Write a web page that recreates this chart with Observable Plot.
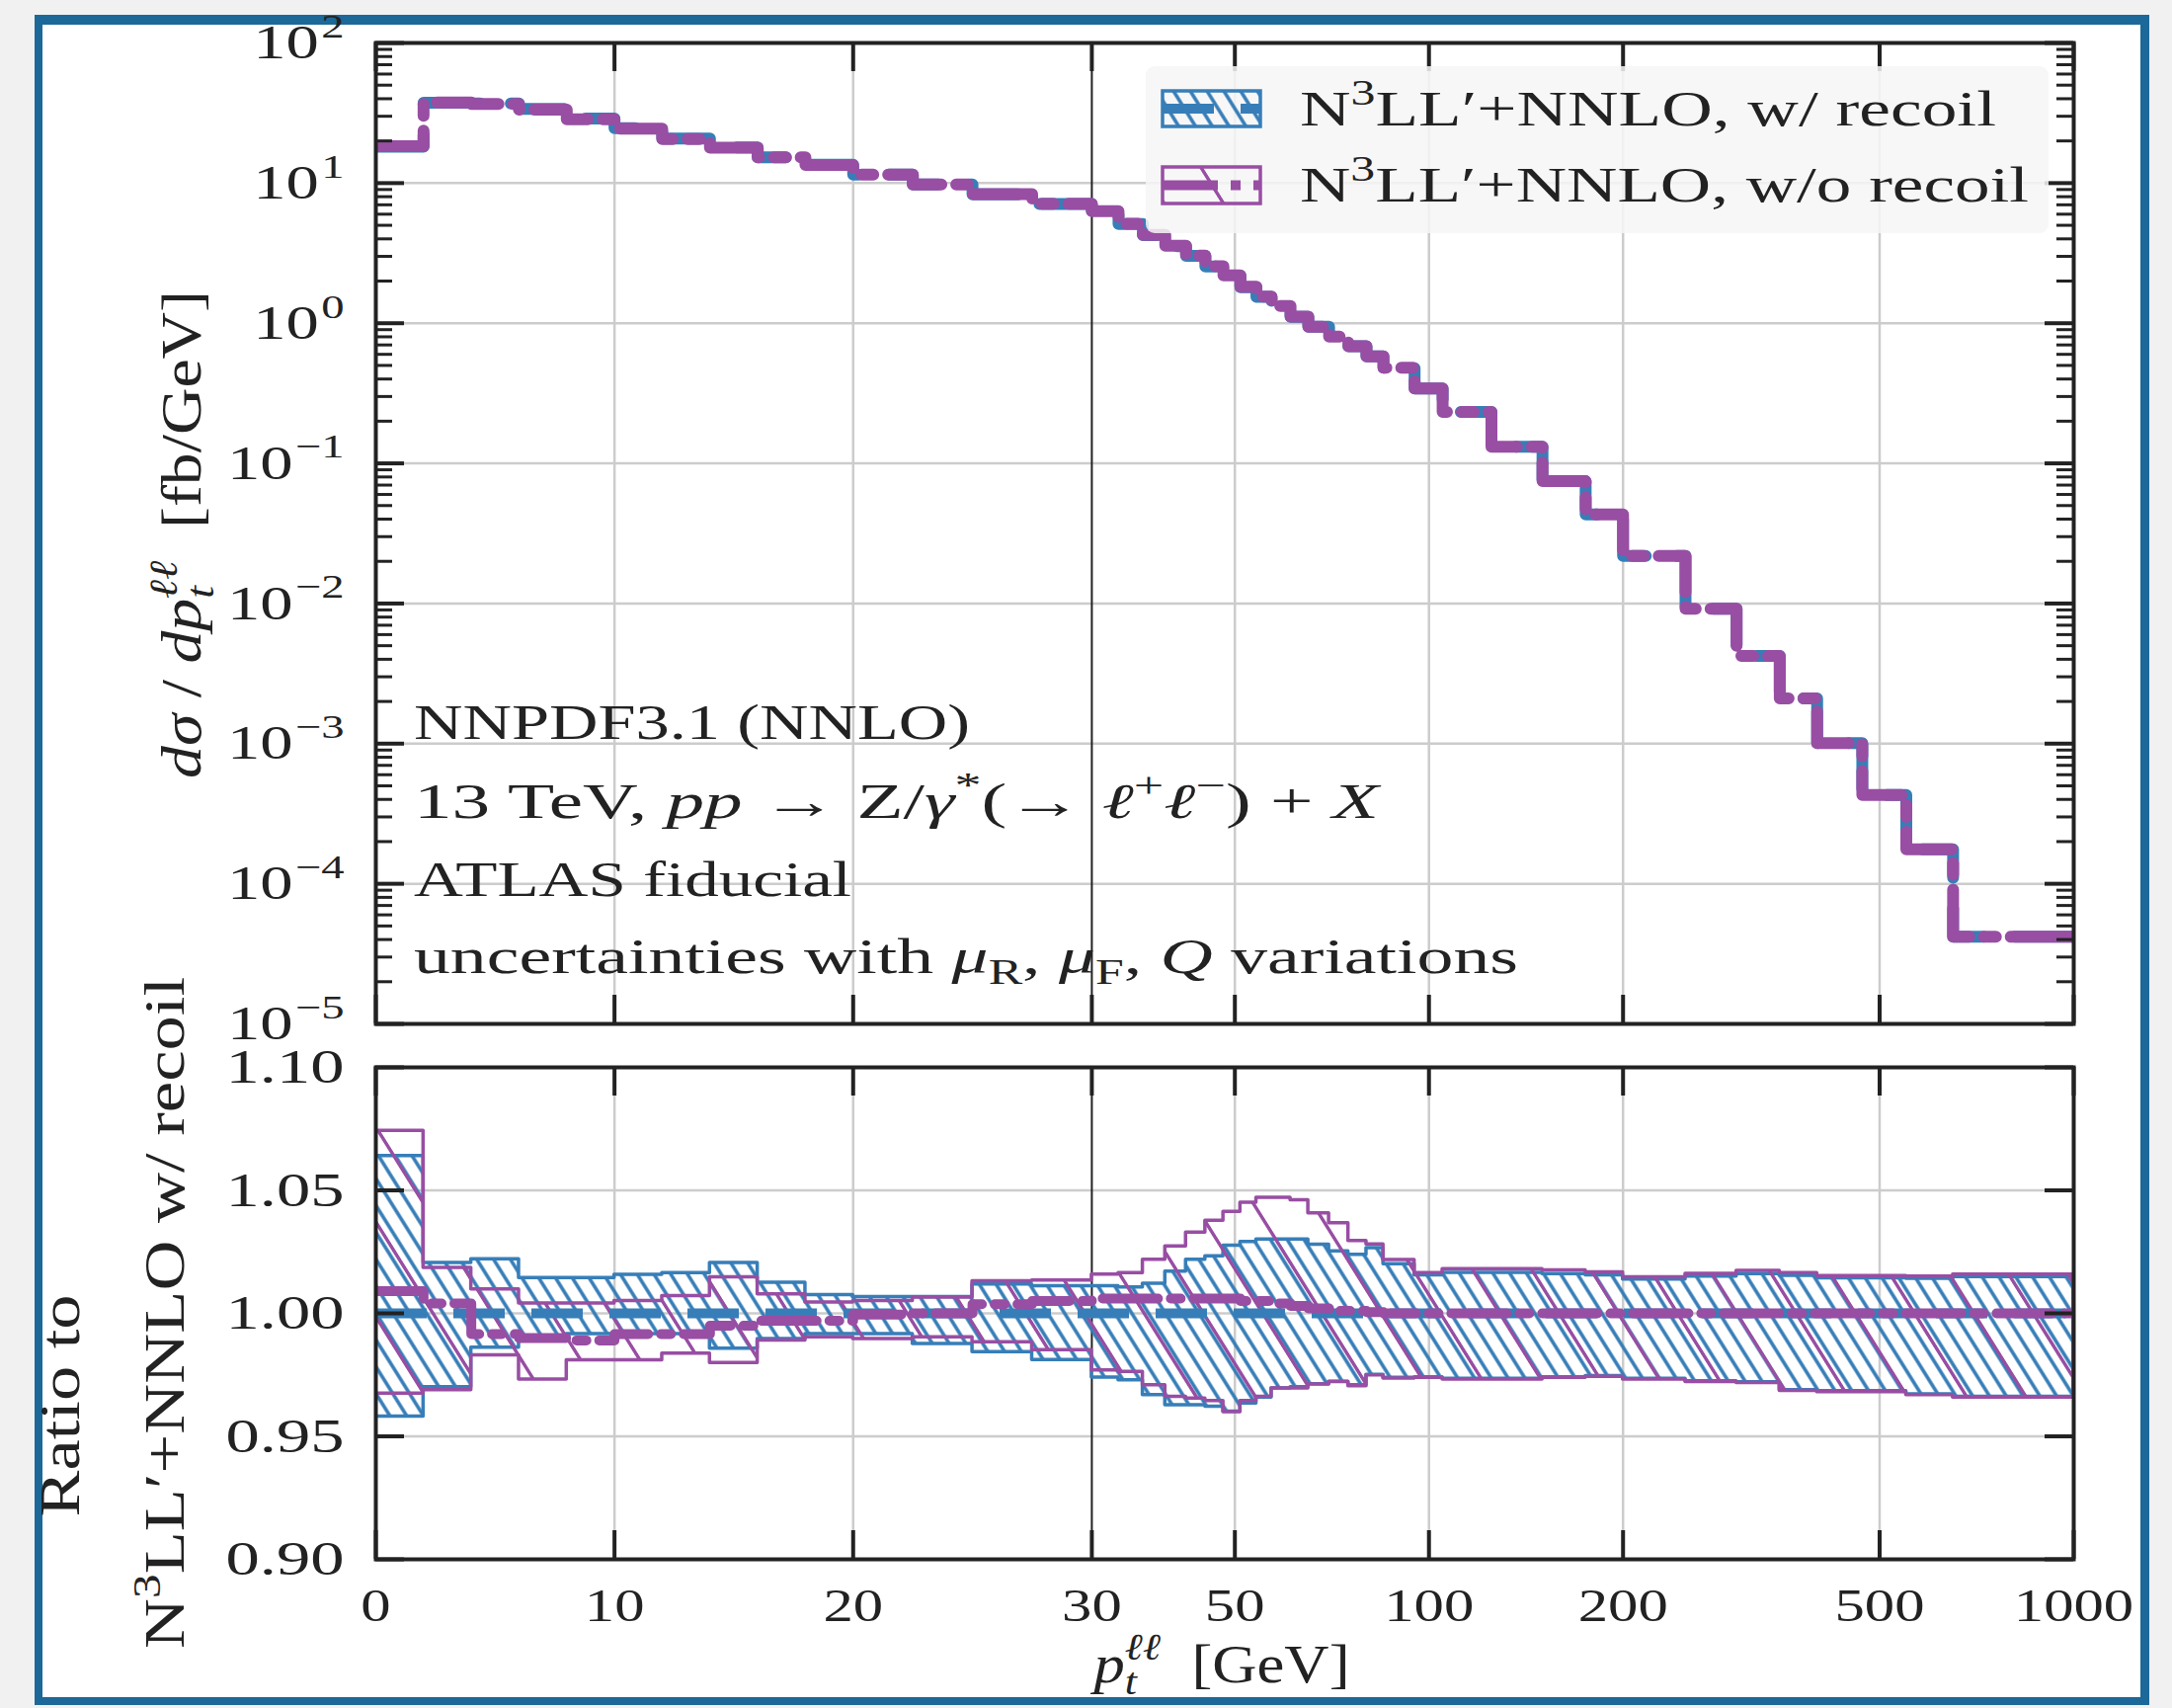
<!DOCTYPE html>
<html>
<head>
<meta charset="utf-8">
<script src="https://cdn.jsdelivr.net/npm/d3@7"></script>
<script src="https://cdn.jsdelivr.net/npm/@observablehq/plot@0.6"></script>
<style>
  html, body { margin: 0; padding: 0; background: #f1f1f1; }
  #page { position: relative; width: 2199px; height: 1729px; overflow: hidden; background: #f1f1f1; }
  #card { position: absolute; left: 35px; top: 15px; width: 2124px; height: 1693px;
          border-style: solid; border-color: #1c6898; border-width: 10px 9px 8px 8px; background: #ffffff; }
  .layer { position: absolute; left: 0; }
  #overlay { position: absolute; left: 0; top: 0; }
</style>
</head>
<body>
<div id="page">
  <div id="card"></div>
  <svg id="defs" width="0" height="0" style="position:absolute;left:0;top:0">
    <defs>
      <pattern id="hatchBlue" patternUnits="userSpaceOnUse" width="17" height="60" patternTransform="skewX(32)">
        <line x1="8.5" y1="-2" x2="8.5" y2="62" stroke="#377eb8" stroke-width="4.2"/>
      </pattern>
      <pattern id="hatchPurple" patternUnits="userSpaceOnUse" width="60" height="60" patternTransform="skewX(32)">
        <line x1="30" y1="-2" x2="30" y2="62" stroke="#984ea3" stroke-width="4"/>
      </pattern>
    </defs>
  </svg>
  <div id="top" class="layer" style="top:0px"></div>
  <div id="bottom" class="layer" style="top:1060px"></div>
  <svg id="overlay" width="2199" height="1729"></svg>
</div>
<script>
// ---------------- data ----------------
const edges = [0,2,4,6,8,10,12,14,16,18,20,22.5,25,27.5,30,33,36,39,42,45,48,51,54,57,61,65,70,75,80,85,95,105,125,150,175,200,250,300,350,400,470,550,650,1000];

// d sigma / d pt (fb/GeV), N3LL'+NNLO with recoil
const xsecRecoil = [18.2,37.5,37.0,33.8,28.9,24.7,20.8,18.0,15.3,13.5,11.5,9.76,8.30,7.09,
  6.27,5.10,4.25,3.55,3.02,2.54,2.18,1.81,1.54,1.32,1.11,0.944,0.803,0.684,0.581,
  0.481,0.342,0.233,0.1315,0.0746,0.0433,0.0219,0.00919,0.00423,0.00210,0.00101,0.000430,0.000176,0.0000419];

// ratio of "w/o recoil" central value to "w/ recoil"
const ratioNoRecoil = [1.009,1.004,0.9916,0.990,0.989,0.9916,0.9916,0.995,0.997,0.997,0.9995,1.000,1.0037,1.005,
  1.006,1.006,1.006,1.006,1.006,1.006,1.006,1.005,1.005,1.004,1.003,1.002,1.001,1.001,1.0005,
  1.000,1.000,1.000,1.000,1.000,1.000,1.000,1.000,1.000,1.000,1.000,1.000,1.000,1.000];

// uncertainty bands (ratio to w/ recoil)
const bandRecoilLo = [0.958,0.970,0.986,0.990,0.9916,0.9916,0.9916,0.9856,0.9896,0.9916,0.9916,0.9876,0.9842,0.981,
  0.9739,0.9728,0.9668,0.9627,0.9627,0.962,0.960,0.9634,0.9658,0.9695,0.9700,0.9712,0.9722,0.9708,0.9750,
  0.9738,0.9740,0.9734,0.9734,0.974,0.9745,0.9734,0.9724,0.972,0.9688,0.9684,0.9684,0.9671,0.9661];
const bandRecoilHi = [1.064,1.0205,1.022,1.0144,1.0144,1.0157,1.0164,1.0205,1.0124,1.0074,1.0066,1.0066,1.0117,1.011,
  1.011,1.0105,1.012,1.017,1.0218,1.0232,1.0275,1.029,1.030,1.030,1.030,1.0279,1.0252,1.0238,1.0265,
  1.020,1.0155,1.0165,1.0165,1.016,1.0155,1.0138,1.015,1.016,1.0153,1.0143,1.0143,1.0141,1.0148];
const bandNoRecoilLo = [0.9674,0.9688,0.9829,0.9731,0.9809,0.9809,0.9836,0.9798,0.989,0.9903,0.9896,0.9903,0.9883,0.985,
  0.9768,0.9762,0.9708,0.9661,0.9654,0.9644,0.9598,0.9644,0.9661,0.9695,0.9695,0.9711,0.9721,0.9704,0.9748,
  0.9735,0.9738,0.9731,0.9731,0.9738,0.9742,0.9731,0.9721,0.9717,0.9685,0.968,0.968,0.9668,0.9658];
const bandNoRecoilHi = [1.0742,1.0185,1.0097,1.004,1.004,1.005,1.007,1.0147,1.0077,1.0044,1.005,1.0064,1.0131,1.0134,
  1.0158,1.0164,1.0218,1.0272,1.0328,1.0377,1.0413,1.045,1.047,1.047,1.046,1.0407,1.0366,1.0294,1.028,
  1.0217,1.0164,1.018,1.018,1.0175,1.0167,1.0147,1.0161,1.0173,1.0164,1.0152,1.0152,1.015,1.0158];

const xTicks = [0,10,20,30,50,100,200,500,1000];
const xGrid = [10,20,50,100,200,500];
const xBreak = 30, xMax = 1000;
const yTicksTop = [1e-5,1e-4,1e-3,1e-2,1e-1,1e0,1e1,1e2];
const yTicksRatio = [0.90,0.95,1.00,1.05,1.10];
const yGridRatio = [0.95,1.00,1.05];

// ---------------- styling ----------------
const BLUE = "#377eb8", PURPLE = "#984ea3", INK = "#222222", GRID = "#cccccc";
const FONT = "'Liberation Serif', 'DejaVu Serif', serif";
const NS = "http://www.w3.org/2000/svg";

// piecewise x scale: linear up to 30 GeV, logarithmic above
const LIN = 0.4217;
const U = x => x <= xBreak ? LIN * x / xBreak
  : LIN + (1 - LIN) * Math.log10(x / xBreak) / Math.log10(xMax / xBreak);

const nb = edges.length - 1;
const rows = edges.map((e, i) => {
  const j = Math.min(i, nb - 1);
  return {
    pt: e,
    recoil: xsecRecoil[j],
    noRecoil: xsecRecoil[j] * ratioNoRecoil[j],
    mid: ratioNoRecoil[j],
    bLo: bandRecoilLo[j], bHi: bandRecoilHi[j],
    pLo: bandNoRecoilLo[j], pHi: bandNoRecoilHi[j]
  };
});

const W = 2199, ML = 380, MR = 100, PW = W - ML - MR;
const TMAJ = 29, TMIN = 17;
const DASH = "52,27", DASHDOT = "56,13,10,13";

// ---------------- top panel ----------------
const topH = 1060, topMT = 43, topMB = 24, topPH = topH - topMT - topMB;
const minors = yTicksTop.slice(0, -1).flatMap(d => [2,3,4,5,6,7,8,9].map(k => k * d));
const xs = d => U(d.pt);

const topPlot = Plot.plot({
  width: W, height: topH, marginLeft: ML, marginRight: MR, marginTop: topMT, marginBottom: topMB,
  style: {background: "transparent", fontFamily: FONT, overflow: "visible"},
  x: {type: "linear", domain: [0, 1], axis: null},
  y: {type: "log", domain: [1e-5, 1e2], axis: null},
  marks: [
    Plot.ruleY(yTicksTop.slice(1, -1), {stroke: GRID, strokeWidth: 2.5}),
    Plot.ruleX(xGrid, {x: U, stroke: GRID, strokeWidth: 2.5}),
    Plot.ruleX([xBreak], {x: U, stroke: INK, strokeWidth: 2}),
    Plot.line(rows, {x: xs, y: "recoil", curve: "step-after", stroke: BLUE, strokeWidth: 12,
      strokeDasharray: "60,31", strokeLinejoin: "round", clip: true}),
    Plot.line(rows, {x: xs, y: "noRecoil", curve: "step-after", stroke: PURPLE, strokeWidth: 12,
      strokeDasharray: "64,15,12,15", strokeLinejoin: "round", clip: true}),
    Plot.ruleY(yTicksTop, {insetRight: PW - TMAJ, stroke: INK, strokeWidth: 4}),
    Plot.ruleY(yTicksTop, {insetLeft: PW - TMAJ, stroke: INK, strokeWidth: 4}),
    Plot.ruleY(minors, {insetRight: PW - TMIN, stroke: INK, strokeWidth: 3}),
    Plot.ruleY(minors, {insetLeft: PW - TMIN, stroke: INK, strokeWidth: 3}),
    Plot.ruleX(xTicks, {x: U, insetTop: topPH - TMAJ, stroke: INK, strokeWidth: 4}),
    Plot.ruleX(xTicks, {x: U, insetBottom: topPH - TMAJ, stroke: INK, strokeWidth: 4}),
    Plot.frame({stroke: INK, strokeWidth: 4}),
    Plot.text(yTicksTop, {y: d => d, text: d => String(Math.round(Math.log10(d))),
      frameAnchor: "left", textAnchor: "end", dx: -32, fontSize: 49, fontFamily: FONT, fill: INK})
  ]
});
document.getElementById("top").appendChild(topPlot);

// ---------------- ratio panel ----------------
const botH = 669, botMT = 20, botMB = 151, botPH = botH - botMT - botMB;
const botPlot = Plot.plot({
  width: W, height: botH, marginLeft: ML, marginRight: MR, marginTop: botMT, marginBottom: botMB,
  style: {background: "transparent", fontFamily: FONT, overflow: "visible"},
  x: {type: "linear", domain: [0, 1], axis: null},
  y: {type: "linear", domain: [0.90, 1.10], axis: null},
  marks: [
    Plot.ruleY(yGridRatio, {stroke: GRID, strokeWidth: 2.5}),
    Plot.ruleX(xGrid, {x: U, stroke: GRID, strokeWidth: 2.5}),
    Plot.ruleX([xBreak], {x: U, stroke: INK, strokeWidth: 2}),
    Plot.areaY(rows, {x: xs, y1: "bLo", y2: "bHi", curve: "step-after",
      fill: "url(#hatchBlue)", stroke: BLUE, strokeWidth: 3.5, clip: true}),
    Plot.areaY(rows, {x: xs, y1: "pLo", y2: "pHi", curve: "step-after",
      fill: "url(#hatchPurple)", stroke: PURPLE, strokeWidth: 3.5, clip: true}),
    Plot.ruleY([1], {stroke: BLUE, strokeWidth: 10, strokeDasharray: DASH}),
    Plot.line(rows, {x: xs, y: "mid", curve: "step-after", stroke: PURPLE, strokeWidth: 10,
      strokeDasharray: DASHDOT, clip: true}),
    Plot.ruleY(yTicksRatio, {insetRight: PW - TMAJ, stroke: INK, strokeWidth: 4}),
    Plot.ruleY(yTicksRatio, {insetLeft: PW - TMAJ, stroke: INK, strokeWidth: 4}),
    Plot.ruleX(xTicks, {x: U, insetTop: botPH - TMAJ, stroke: INK, strokeWidth: 4}),
    Plot.ruleX(xTicks, {x: U, insetBottom: botPH - TMAJ, stroke: INK, strokeWidth: 4}),
    Plot.frame({stroke: INK, strokeWidth: 4}),
    Plot.text(yTicksRatio, {y: d => d, text: d => d.toFixed(2), frameAnchor: "left", textAnchor: "end",
      dx: -32, fontSize: 49, fontFamily: FONT, fill: INK}),
    Plot.text(xTicks, {x: U, text: d => String(d), frameAnchor: "bottom", lineAnchor: "top",
      dy: 30, fontSize: 46, fontFamily: FONT, fill: INK})
  ]
});
document.getElementById("bottom").appendChild(botPlot);

// ---------------- post-processing of tick labels ----------------
function textGroups(svg) { return svg.querySelectorAll('g[aria-label="text"]'); }
function stretch(group, sx) {
  if (!group) return;
  group.querySelectorAll("text").forEach(t => {
    const tr = t.getAttribute("transform");
    if (tr) t.setAttribute("transform", tr + ` scale(${sx},1)`);
    else {
      const x = +(t.getAttribute("x") || 0);
      t.removeAttribute("x");
      t.setAttribute("transform", `translate(${x},0) scale(${sx},1)`);
    }
  });
}
const topTickGroup = textGroups(topPlot)[0];
const [ratioTickGroup, xTickGroup] = textGroups(botPlot);
if (topTickGroup) topTickGroup.querySelectorAll("text").forEach(t => {
  const e = t.textContent.replace("-", "−");
  while (t.firstChild) t.removeChild(t.firstChild);
  const a = document.createElementNS(NS, "tspan"); a.textContent = "10";
  const b = document.createElementNS(NS, "tspan"); b.textContent = e;
  b.setAttribute("font-size", "70%"); b.setAttribute("dy", "-0.62em"); b.setAttribute("dx", "0.05em");
  t.appendChild(a); t.appendChild(b);
});
stretch(topTickGroup, 1.36);
stretch(ratioTickGroup, 1.4);
stretch(xTickGroup, 1.32);

// ---------------- overlay: legend, annotations, axis titles ----------------
const ov = document.getElementById("overlay");
function el(tag, attrs, parent = ov) {
  const e = document.createElementNS(NS, tag);
  for (const k in attrs) e.setAttribute(k, attrs[k]);
  parent.appendChild(e);
  return e;
}
const SUP = {s: 0.7, sh: -0.42}, SUB = {s: 0.7, sh: 0.22};
function rich({x, y, size, anchor = "start", rotate = 0, length = null}, parts) {
  const t = el("text", {
    transform: `translate(${x},${y})` + (rotate ? ` rotate(${rotate})` : ""),
    "font-size": size, "text-anchor": anchor, "font-family": FONT, fill: INK,
    style: "white-space:pre"
  });
  if (length) { t.setAttribute("textLength", length); t.setAttribute("lengthAdjust", "spacingAndGlyphs"); }
  let cur = 0;
  for (const p of parts) {
    const [str, o = {}] = Array.isArray(p) ? p : [p];
    const ts = document.createElementNS(NS, "tspan");
    const shift = (o.sh || 0) * size;
    ts.setAttribute("dy", shift - cur); cur = shift;
    if (o.dx) ts.setAttribute("dx", o.dx * size);
    ts.setAttribute("font-size", (o.s || 1) * size);
    if (o.i) ts.setAttribute("font-style", "italic");
    ts.textContent = str;
    t.appendChild(ts);
  }
  return t;
}
const I = {i: 1};
const ISUB = {i: 1, s: 0.7, sh: 0.22};
const ISUP = {i: 1, s: 0.7, sh: -0.42, dx: -0.2};

// legend
el("rect", {x: 1160, y: 67, width: 914, height: 169, rx: 9, fill: "#f6f6f6", "fill-opacity": 0.85});
el("rect", {x: 1177, y: 92, width: 99, height: 36, fill: "url(#hatchBlue)", stroke: BLUE, "stroke-width": 3.5});
el("line", {x1: 1177, y1: 110, x2: 1276, y2: 110, stroke: BLUE, "stroke-width": 10, "stroke-dasharray": DASH});
el("rect", {x: 1177, y: 169, width: 99, height: 37, fill: "url(#hatchPurple)", stroke: PURPLE, "stroke-width": 3.5});
el("line", {x1: 1177, y1: 187.5, x2: 1276, y2: 187.5, stroke: PURPLE, "stroke-width": 10, "stroke-dasharray": DASHDOT});
rich({x: 1316, y: 127, size: 50, length: 705}, ["N", ["3", SUP], ["LL′+NNLO, w/ recoil"]]);
rich({x: 1316, y: 204, size: 50, length: 738}, ["N", ["3", SUP], ["LL′+NNLO, w/o recoil"]]);

// annotations
rich({x: 419, y: 748, size: 50, length: 563}, ["NNPDF3.1 (NNLO)"]);
rich({x: 419, y: 828, size: 50, length: 977},
  ["13 TeV, ", ["pp", I], " → Z/", ["γ", I], ["*", SUP], "(→ ", ["ℓ", I], ["+", SUP], ["ℓ", I], ["−", SUP], ") + ", ["X", I]]);
rich({x: 419, y: 907, size: 50, length: 443}, ["ATLAS fiducial"]);
rich({x: 419, y: 985, size: 50, length: 1118},
  ["uncertainties with ", ["μ", I], ["R", SUB], ", ", ["μ", I], ["F", SUB], ", ", ["Q", I], " variations"]);

// axis titles
rich({x: 203, y: 541, size: 57, anchor: "middle", rotate: -90, length: 494},
  [["d", I], ["σ", I], " / ", ["d", I], ["p", I], ["t", ISUB], ["ℓℓ", ISUP], "  [fb/GeV]"]);
rich({x: 80, y: 1423, size: 57, anchor: "middle", rotate: -90, length: 225}, ["Ratio to"]);
rich({x: 186, y: 1329, size: 57, anchor: "middle", rotate: -90, length: 680},
  ["N", ["3", SUP], "LL′+NNLO w/ recoil"]);
rich({x: 1237, y: 1703, size: 54, anchor: "middle", length: 259},
  [["p", I], ["t", ISUB], ["ℓℓ", ISUP], "  [GeV]"]);
</script>
</body>
</html>
